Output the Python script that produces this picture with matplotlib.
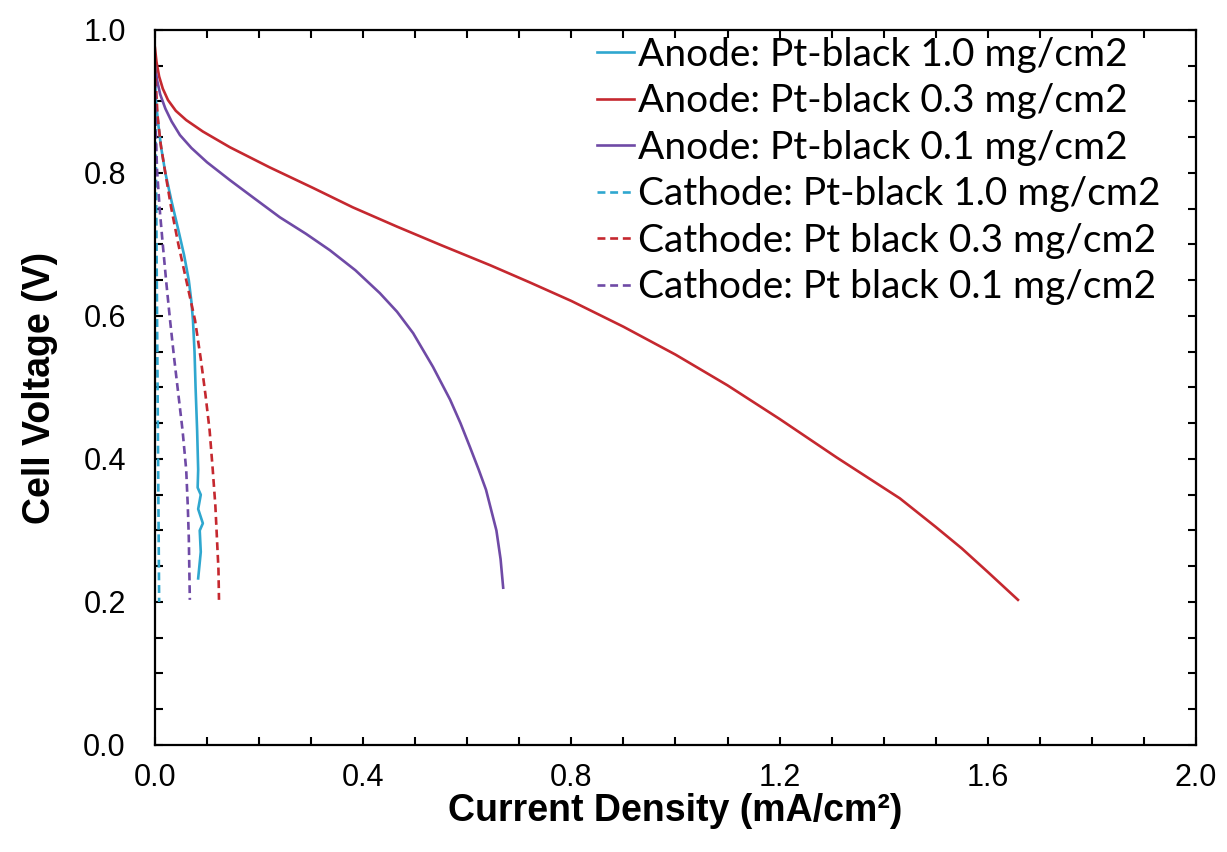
import matplotlib
matplotlib.use("Agg")
import matplotlib.pyplot as plt
from matplotlib.ticker import MultipleLocator, FormatStrFormatter

# polarization curves, current density (mA/cm2) vs cell voltage (V)
anode_10_x = [0.0, 0.002, 0.006, 0.012, 0.02, 0.032, 0.045, 0.056, 0.065, 0.07, 0.073, 0.076, 0.078, 0.081, 0.083,
              0.082, 0.088, 0.083, 0.092, 0.086, 0.088, 0.083]
anode_10_y = [0.93, 0.90, 0.87, 0.835, 0.80, 0.76, 0.72, 0.685, 0.65, 0.62, 0.594, 0.55, 0.50, 0.44, 0.385,
              0.36, 0.35, 0.33, 0.31, 0.30, 0.27, 0.233]

anode_03_x = [0.0, 0.003, 0.008, 0.015, 0.025, 0.04, 0.06, 0.092, 0.144, 0.22, 0.304, 0.38, 0.465, 0.55, 0.644,
              0.72, 0.8, 0.9, 1.0, 1.1, 1.2, 1.31, 1.431, 1.5, 1.55, 1.6, 1.658]
anode_03_y = [0.975, 0.955, 0.935, 0.918, 0.902, 0.887, 0.874, 0.858, 0.836, 0.808, 0.779, 0.752, 0.725, 0.699, 0.671,
              0.647, 0.621, 0.585, 0.546, 0.503, 0.456, 0.402, 0.345, 0.305, 0.275, 0.242, 0.203]

anode_01_x = [0.0, 0.004, 0.01, 0.02, 0.032, 0.048, 0.07, 0.1, 0.144, 0.19, 0.24, 0.29, 0.336, 0.385, 0.432,
              0.465, 0.496, 0.534, 0.567, 0.587, 0.605, 0.622, 0.636, 0.656, 0.664, 0.669]
anode_01_y = [0.95, 0.93, 0.91, 0.89, 0.872, 0.853, 0.835, 0.815, 0.79, 0.765, 0.738, 0.715, 0.692, 0.664, 0.632,
              0.606, 0.576, 0.529, 0.483, 0.45, 0.417, 0.385, 0.357, 0.30, 0.26, 0.22]

cathode_10_x = [0.0, 0.002, 0.004, 0.006, 0.008]
cathode_10_y = [0.95, 0.80, 0.60, 0.40, 0.20]

cathode_03_x = [0.0, 0.002, 0.005, 0.011, 0.019, 0.031, 0.045, 0.061, 0.077, 0.088, 0.097, 0.105, 0.111, 0.116, 0.119, 0.122, 0.123]
cathode_03_y = [0.95, 0.92, 0.88, 0.84, 0.804, 0.752, 0.70, 0.647, 0.594, 0.54, 0.49, 0.44, 0.385, 0.335, 0.29, 0.245, 0.203]

cathode_01_x = [0.0, 0.001, 0.004, 0.009, 0.015, 0.022, 0.029, 0.037, 0.045, 0.053, 0.06, 0.063, 0.065, 0.066, 0.067]
cathode_01_y = [0.93, 0.87, 0.804, 0.75, 0.70, 0.645, 0.594, 0.54, 0.49, 0.44, 0.385, 0.335, 0.29, 0.245, 0.203]

labels = ["Anode: Pt-black 1.0 mg/cm2", "Anode: Pt-black 0.3 mg/cm2", "Anode: Pt-black 0.1 mg/cm2",
          "Cathode: Pt-black 1.0 mg/cm2", "Cathode: Pt black 0.3 mg/cm2", "Cathode: Pt black 0.1 mg/cm2"]

cyan = "#2FA7CF"
red = "#C5282F"
purple = "#6F4AA6"

plt.rcParams["font.family"] = "Liberation Sans"

fig = plt.figure(figsize=(12.27, 8.52), dpi=100)
ax = fig.add_axes([0.1263, 0.1256, 0.8484, 0.8392])

lw = 1.9
dash = (0, (3.0, 1.8))
ax.plot(anode_10_x, anode_10_y, color=cyan, lw=lw, label=labels[0])
ax.plot(anode_03_x, anode_03_y, color=red, lw=lw, label=labels[1])
ax.plot(anode_01_x, anode_01_y, color=purple, lw=lw, label=labels[2])
ax.plot(cathode_10_x, cathode_10_y, color=cyan, lw=lw, ls=dash, label=labels[3])
ax.plot(cathode_03_x, cathode_03_y, color=red, lw=lw, ls=dash, label=labels[4])
ax.plot(cathode_01_x, cathode_01_y, color=purple, lw=lw, ls=dash, label=labels[5])

ax.set_xlim(0, 2.0)
ax.set_ylim(0, 1.0)
ax.xaxis.set_major_locator(MultipleLocator(0.4))
ax.xaxis.set_minor_locator(MultipleLocator(0.1))
ax.yaxis.set_major_locator(MultipleLocator(0.2))
ax.yaxis.set_minor_locator(MultipleLocator(0.05))
ax.xaxis.set_major_formatter(FormatStrFormatter("%.1f"))
ax.yaxis.set_major_formatter(FormatStrFormatter("%.1f"))
ax.tick_params(which="both", direction="in", top=True, right=True, width=1.5, length=6)
ax.tick_params(axis="x", which="major", labelsize=22, pad=13)
ax.tick_params(axis="y", which="major", labelsize=22, pad=21)
for s in ax.spines.values():
    s.set_linewidth(1.6)

ax.set_xlabel("Current Density (mA/cm²)", fontsize=27, fontweight="bold", labelpad=0)
ax.set_ylabel("Cell Voltage (V)", fontsize=27, fontweight="bold", labelpad=18)

ax.legend(loc="upper right", frameon=False, prop={"family": "Lato", "size": 28},
          handlelength=0.95, handletextpad=0.1, labelspacing=0.27,
          borderaxespad=0.0, bbox_to_anchor=(0.981, 1.012))

fig.savefig("out.png", dpi=100)
